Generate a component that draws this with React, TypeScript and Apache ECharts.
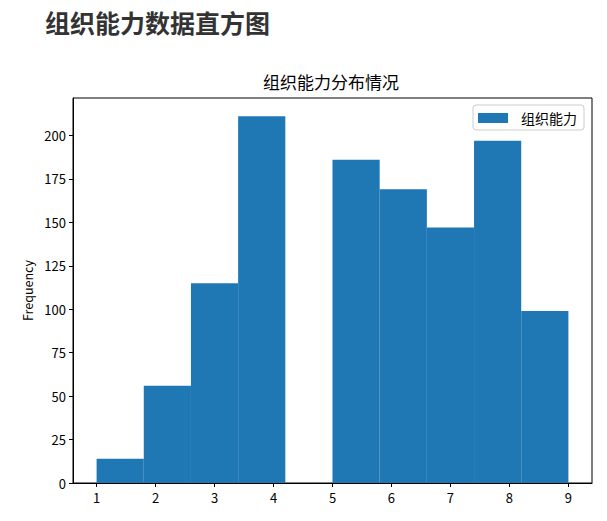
import React, { useEffect, useRef } from "react";
import * as echarts from "echarts";

const mainTitle = "组织能力数据直方图";
const chartTitle = "组织能力分布情况";
const seriesName = "组织能力";
const binEdges = [1.0, 1.8, 2.6, 3.4, 4.2, 5.0, 5.8, 6.6, 7.4, 8.2, 9.0];
const counts = [14, 56, 115, 211, 0, 186, 169, 147, 197, 99];
const xTicks = [1, 2, 3, 4, 5, 6, 7, 8, 9];
const yTicks = [0, 25, 50, 75, 100, 125, 150, 175, 200];

const FONT = "'Noto Sans CJK SC', 'DejaVu Sans', sans-serif";
const BLUE = "#1f77b4";

export default function App() {
  const ref = useRef<HTMLDivElement>(null);
  useEffect(() => {
    if (!ref.current) return;
    const chart = echarts.init(ref.current, null, { renderer: "svg" });
    const data = counts.map((c, i) => [binEdges[i], binEdges[i + 1], c]);
    const span = binEdges[binEdges.length - 1] - binEdges[0];
    const xMin = binEdges[0] - span * 0.05;
    const xMax = binEdges[binEdges.length - 1] + span * 0.05;
    const yMax = Math.max(...counts) * 1.05;
    chart.setOption({
      animation: false,
      textStyle: { fontFamily: FONT },
      title: [
        {
          text: mainTitle,
          left: 40,
          top: 4,
          textStyle: { fontSize: 25, fontWeight: "bold", color: "#333", fontFamily: FONT },
        },
        {
          text: chartTitle,
          left: 258,
          top: 68,
          textStyle: { fontSize: 17, fontWeight: "normal", color: "#000", fontFamily: FONT },
        },
      ],
      legend: {
        data: [{ name: seriesName, icon: "rect" }],
        right: 23,
        top: 105,
        orient: "vertical",
        itemWidth: 30,
        itemHeight: 10,
        padding: [6, 7, 5, 5],
        backgroundColor: "#fff",
        borderColor: "#cccccc",
        borderWidth: 1,
        borderRadius: 3,
        textStyle: { fontSize: 14, color: "#000", fontFamily: FONT, padding: [0, 0, 0, 8] },
      },
      grid: {
        left: 73,
        right: 15,
        top: 98,
        bottom: 38,
        show: true,
        borderColor: "#000",
        borderWidth: 1,
        backgroundColor: "transparent",
      },
      xAxis: {
        type: "value",
        min: xMin,
        max: xMax,
        axisLine: { show: true, lineStyle: { color: "#000", width: 1 } },
        axisTick: { show: true, length: 4, lineStyle: { color: "#000" }, customValues: xTicks },
        axisLabel: {
          color: "#000",
          fontSize: 13,
          margin: 8,
          fontFamily: FONT,
          customValues: xTicks,
        },
        splitLine: { show: false },
      },
      yAxis: {
        type: "value",
        min: 0,
        max: yMax,
        name: "Frequency",
        nameLocation: "middle",
        nameRotate: 90,
        nameGap: 38,
        nameTextStyle: { fontSize: 12.5, color: "#000", fontFamily: FONT },
        axisLine: { show: true, lineStyle: { color: "#000", width: 1 } },
        axisTick: { show: true, length: 4, lineStyle: { color: "#000" }, customValues: yTicks },
        axisLabel: {
          color: "#000",
          fontSize: 13,
          margin: 7,
          fontFamily: FONT,
          customValues: yTicks,
        },
        splitLine: { show: false },
      },
      series: [
        {
          name: seriesName,
          type: "custom",
          itemStyle: { color: BLUE },
          encode: { x: [0, 1], y: 2 },
          renderItem: (params: any, api: any) => {
            const x0 = api.value(0);
            const x1 = api.value(1);
            const v = api.value(2);
            const p0 = api.coord([x0, v]);
            const p1 = api.coord([x1, 0]);
            return {
              type: "rect",
              shape: { x: p0[0], y: p0[1], width: p1[0] - p0[0], height: p1[1] - p0[1] },
              style: { fill: BLUE },
            };
          },
          data,
        },
      ],
    });
    return () => chart.dispose();
  }, []);
  return (
    <div
      ref={ref}
      style={{ position: "fixed", left: 0, top: 0, width: 607, height: 521, background: "#fff" }}
    />
  );
}
